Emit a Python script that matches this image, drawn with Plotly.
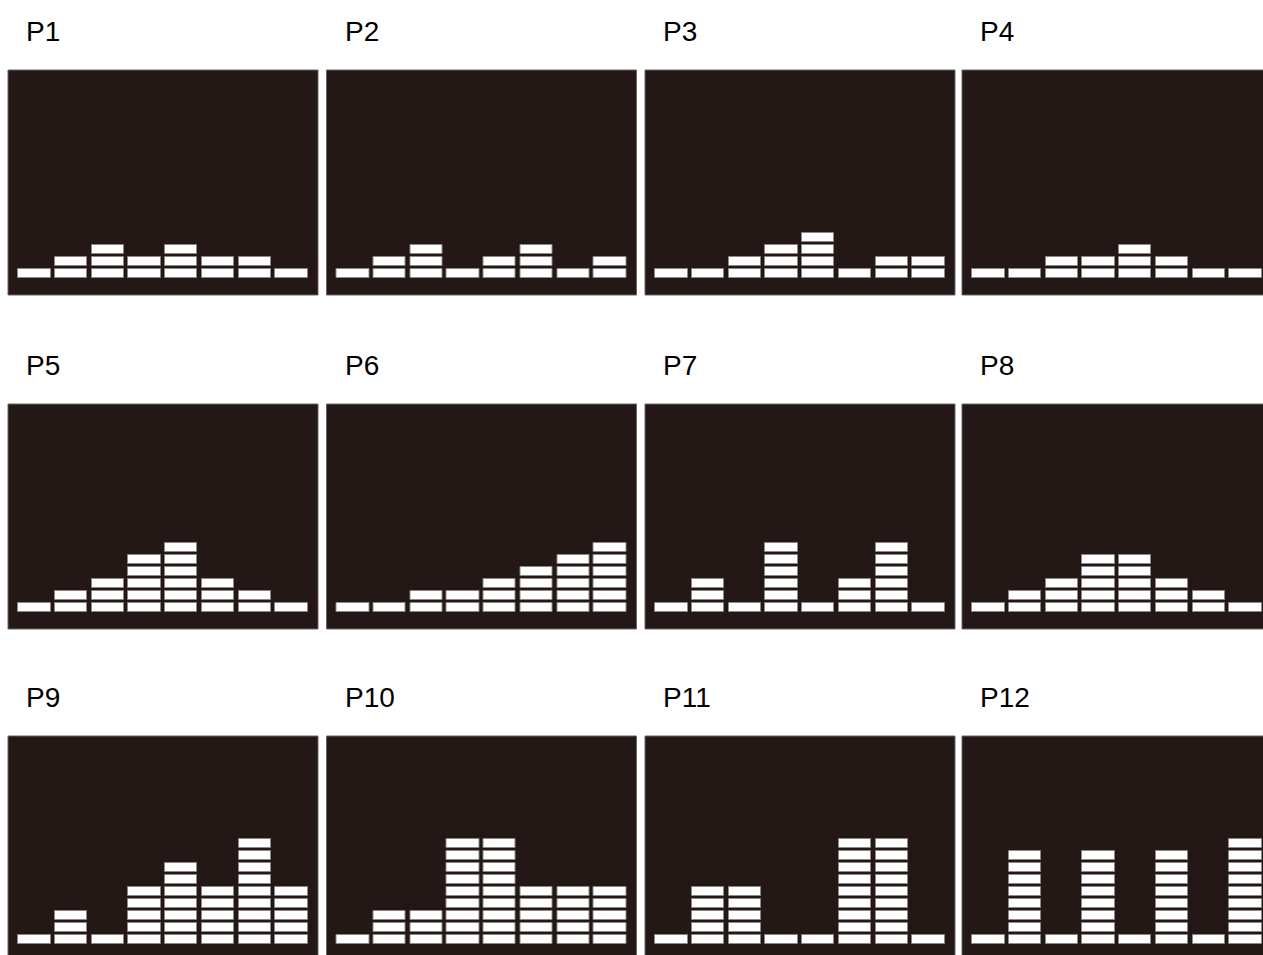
import plotly.graph_objects as go

# ---- data: number of stacked blocks per column in each panel ----
panel_labels = ["P1", "P2", "P3", "P4", "P5", "P6", "P7", "P8", "P9", "P10", "P11", "P12"]
columns = [1, 2, 3, 4, 5, 6, 7, 8]
p1 = [1, 2, 3, 2, 3, 2, 2, 1]
p2 = [1, 2, 3, 1, 2, 3, 1, 2]
p3 = [1, 1, 2, 3, 4, 1, 2, 2]
p4 = [1, 1, 2, 2, 3, 2, 1, 1]
p5 = [1, 2, 3, 5, 6, 3, 2, 1]
p6 = [1, 1, 2, 2, 3, 4, 5, 6]
p7 = [1, 3, 1, 6, 1, 3, 6, 1]
p8 = [1, 2, 3, 5, 5, 3, 2, 1]
p9 = [1, 3, 1, 5, 7, 5, 9, 5]
p10 = [1, 3, 3, 9, 9, 5, 5, 5]
p11 = [1, 5, 5, 1, 1, 9, 9, 1]
p12 = [1, 8, 1, 8, 1, 8, 1, 9]
panels = [p1, p2, p3, p4, p5, p6, p7, p8, p9, p10, p11, p12]

# ---- layout constants (screen pixels) ----
W, H = 1263, 955
BG = "#231815"
panel_lefts = [8, 326.5, 645, 962]
panel_w = 310
row_tops = [70, 404, 736]
panel_h = 225
col_pitch = 36.7
first_center_off = 26.5   # from panel left to first column centre
base_off = 17             # from panel bottom to bottom of first block
unit = 12.0               # block pitch in px
block_h = 0.75            # block height in units
bar_w = 0.88

fig = go.Figure()
layout = dict(width=W, height=H, margin=dict(l=0, r=0, t=0, b=0),
              paper_bgcolor="white", plot_bgcolor="rgba(0,0,0,0)",
              showlegend=False, bargap=0)
annotations = []
shapes = []

for idx, counts in enumerate(panels):
    r, c = divmod(idx, 4)
    n = idx + 1
    left = panel_lefts[c]
    right = left + panel_w
    right_cl = min(right, W)
    top = row_tops[r]
    bottom = top + panel_h
    bottom_cl = min(bottom, H)
    base_px = bottom - base_off
    x0c = left + first_center_off
    xr = [(left - x0c) / col_pitch, (right_cl - x0c) / col_pitch]
    yr = [-(bottom_cl - base_px) / unit, (base_px - top) / unit]

    xs, bases = [], []
    for ci, cnt in enumerate(counts):
        for k in range(cnt):
            xs.append(ci)
            bases.append(k)
    fig.add_trace(go.Bar(
        x=xs, y=[block_h] * len(xs), base=bases, width=bar_w,
        marker=dict(color="white", line=dict(color="#8c8786", width=1)),
        xaxis=f"x{n}", yaxis=f"y{n}", hoverinfo="skip"))

    ax = dict(domain=[left / W, right_cl / W], range=xr, visible=False,
              fixedrange=True, anchor=f"y{n}")
    ay = dict(domain=[1 - bottom_cl / H, 1 - top / H], range=yr, visible=False,
              fixedrange=True, anchor=f"x{n}")
    layout["xaxis" if n == 1 else f"xaxis{n}"] = ax
    layout["yaxis" if n == 1 else f"yaxis{n}"] = ay

    shapes.append(dict(
        type="rect", xref="paper", yref="paper", layer="below",
        x0=left / W, x1=(right_cl + (2 if right > W else 0)) / W,
        y0=1 - (bottom_cl + (2 if bottom > H else 0)) / H, y1=1 - top / H,
        fillcolor=BG, line=dict(color="#6b6564", width=1)))

    annotations.append(dict(
        text=panel_labels[idx], xref="paper", yref="paper",
        x=(left + 16) / W, y=1 - (top - 39) / H, xanchor="left", yanchor="middle",
        showarrow=False, font=dict(family="Liberation Sans, Arial", size=28, color="black")))

layout["annotations"] = annotations
layout["shapes"] = shapes
fig.update_layout(**layout)
fig.write_html("out.html", config={"displayModeBar": False},
               post_script="document.body.style.margin='0';document.body.style.overflow='hidden';")
